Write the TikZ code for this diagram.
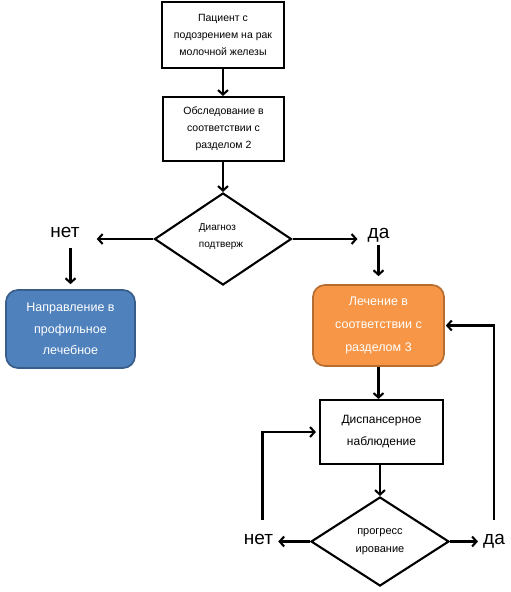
\documentclass[tikz,border=0pt]{standalone}
\usepackage{fontspec}
\setmainfont{Liberation Sans}
\usetikzlibrary{shapes.geometric,arrows.meta}
\definecolor{bluefill}{HTML}{4F81BD}
\definecolor{blueline}{HTML}{385D8A}
\definecolor{orangefill}{HTML}{F79646}
\definecolor{orangeline}{HTML}{B66D31}
\begin{document}
\begin{tikzpicture}[x=1pt,y=-1pt,
box/.style={draw,line width=2.1pt,align=center,inner sep=0pt},
rbox/.style={draw,line width=1.7pt,rounded corners=12pt,align=center,inner sep=0pt,text=white},
dia/.style={draw,diamond,line width=2.1pt,inner sep=0pt},
lbl/.style={inner sep=0pt,anchor=base,font=\fontsize{19}{19}\selectfont},
arr/.style={line width=2.1pt,-{Straight Barb[length=4.5pt,width=10pt]}}]
\useasboundingbox (0,0) rectangle (511,592);

\node[box,minimum width=122pt,minimum height=66pt,font=\fontsize{10.5}{17}\selectfont]
(patient) at (223,35) {Пациент с\\подозрением на рак\\молочной железы};
\node[box,minimum width=121pt,minimum height=64pt,font=\fontsize{10.5}{17}\selectfont]
(exam) at (223.5,129) {Обследование в\\соответствии с\\разделом 2};
\node[dia,minimum width=137pt,minimum height=92pt] (diag) at (223,239) {};
\node[align=left,font=\fontsize{10}{17}\selectfont] at (221,237) {Диагноз\\подтверж};

\node[lbl] (no1) at (65,237) {нет};
\node[lbl] (yes1) at (378.5,238) {да};

\node[rbox,fill=bluefill,draw=blueline,minimum width=129pt,minimum height=78pt,
font=\fontsize{12.5}{21.5}\selectfont]
(refer) at (70.5,329) {Направление в\\профильное\\лечебное};
\node[rbox,fill=orangefill,draw=orangeline,minimum width=131pt,minimum height=81pt,
font=\fontsize{12.5}{23}\selectfont]
(treat) at (378.5,325.5) {Лечение в\\соответствии с\\разделом 3};

\node[box,minimum width=123pt,minimum height=64pt,font=\fontsize{12}{22}\selectfont]
(follow) at (381.5,432) {Диспансерное\\наблюдение};
\node[dia,minimum width=138pt,minimum height=89pt,font=\fontsize{11}{18}\selectfont,align=center]
(progr) at (380,541.5) {прогресс\\ирование};

\node[lbl] (no2) at (258.5,544) {нет};
\node[lbl] (yes2) at (494,544) {да};

% main line
\draw[arr] (patient) -- (exam.north -| patient.south);
\draw[arr] (exam.south -| diag.north) -- (diag.north);
\draw[arr,shorten >=17pt] (diag.west) -- (diag.west -| no1.east);
\draw[arr,shorten >=10pt] (diag.east) -- (diag.east -| yes1.west);
\draw[arr,shorten <=11pt,shorten >=5pt] (refer.north |- no1.south) -- (refer.north);
\draw[arr,shorten <=3pt,shorten >=8pt] (yes1.south) -- (treat.north);
\draw[arr] (treat.south) -- (treat.south |- follow.north);
\draw[arr] (follow.south -| progr.north) -- (progr.north);

% loops
\draw[arr,shorten >=5pt] (progr.west) -- (progr.west -| no2.east);
\draw[arr,shorten >=5pt] (progr.east) -- (progr.east -| yes2.west);
\draw[arr,shorten <=14pt,shorten >=3pt] ([xshift=4pt]no2.north) |- (follow.west);
\draw[arr,shorten <=14pt,shorten >=1pt] (yes2.north) |- (treat.east);
\end{tikzpicture}
\end{document}
